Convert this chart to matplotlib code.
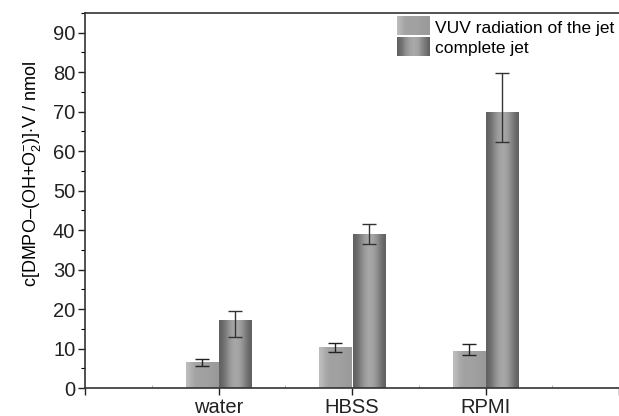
import numpy as np
import matplotlib
matplotlib.use("Agg")
import matplotlib.pyplot as plt
from matplotlib.patches import Rectangle
from matplotlib.legend_handler import HandlerBase
from matplotlib.ticker import MultipleLocator

plt.rcParams["font.family"] = ["Liberation Sans", "DejaVu Sans"]
plt.rcParams["mathtext.fontset"] = "custom"
plt.rcParams["mathtext.rm"] = "Liberation Sans"
plt.rcParams["mathtext.it"] = "Liberation Sans"

categories = ["water", "HBSS", "RPMI"]
series = ["VUV radiation of the jet", "complete jet"]

vuv = [6.4, 10.2, 9.2]
vuv_lo = [5.6, 9.0, 8.3]
vuv_hi = [7.3, 11.4, 11.2]

full = [17.2, 39.0, 69.7]
full_lo = [12.8, 36.5, 62.4]
full_hi = [19.4, 41.6, 79.9]

# gradient profiles (left -> right) for the two bar styles
grad_vuv = [0.74, 0.68, 0.64, 0.63, 0.63, 0.63, 0.62, 0.61, 0.6]
grad_full = [0.38, 0.45, 0.55, 0.63, 0.66, 0.64, 0.57, 0.47, 0.38]


def gradient_bar(ax, x, w, h, prof):
    img = np.array(prof)[None, :]
    ax.imshow(img, cmap="gray", vmin=0, vmax=1, aspect="auto",
              extent=(x - w / 2, x + w / 2, 0, h), interpolation="bicubic",
              zorder=2)


class GradHandler(HandlerBase):
    def __init__(self, prof):
        super().__init__()
        self.prof = prof

    def create_artists(self, legend, orig, x0, y0, width, height, fontsize, trans):
        arts = []
        n = len(self.prof) * 4
        vals = np.interp(np.linspace(0, len(self.prof) - 1, n),
                         np.arange(len(self.prof)), self.prof)
        for i, v in enumerate(vals):
            r = Rectangle((x0 + i * width / n, y0 - 2), width / n + 0.3, height + 4,
                          facecolor=str(v), edgecolor="none", transform=trans)
            arts.append(r)
        return arts


fig = plt.figure(figsize=(6.19, 4.16), dpi=100)
ax = fig.add_axes([85 / 619, 28 / 416, 534 / 619, 375 / 416])

x = np.arange(1, len(categories) + 1)
w = 0.24
off = 0.126

for i in range(len(categories)):
    gradient_bar(ax, x[i] - off, w, vuv[i], grad_vuv)
    gradient_bar(ax, x[i] + off, w, full[i], grad_full)

vuv_err = [np.array(vuv) - np.array(vuv_lo), np.array(vuv_hi) - np.array(vuv)]
full_err = [np.array(full) - np.array(full_lo), np.array(full_hi) - np.array(full)]
ax.errorbar(x - off, vuv, yerr=vuv_err, fmt="none", ecolor="#222222",
            elinewidth=1.0, capsize=5, capthick=1.0, zorder=3)
ax.errorbar(x + off, full, yerr=full_err, fmt="none", ecolor="#333333",
            elinewidth=1.0, capsize=5, capthick=1.0, zorder=3)

ax.set_xlim(0, 4)
ax.set_ylim(0, 95)
ax.set_xticks([0, 1, 2, 3, 4])
ax.set_xticklabels(["", "water", "HBSS", "RPMI", ""])
ax.xaxis.set_minor_locator(MultipleLocator(0.5))
ax.set_yticks(np.arange(0, 91, 10))
ax.yaxis.set_minor_locator(MultipleLocator(5))

ax.tick_params(axis="both", which="major", direction="out", length=5,
               width=1.0, labelsize=14.5, colors="#222222")
ax.tick_params(axis="y", which="minor", direction="out", length=3, width=0.8)
ax.tick_params(axis="x", which="minor", direction="in", length=2, width=0.6,
               color="#aaaaaa")
ax.tick_params(axis="x", which="major", pad=2)
ax.tick_params(axis="y", which="major", pad=2)

ax.spines["right"].set_visible(False)
for s in ["left", "bottom", "top"]:
    ax.spines[s].set_linewidth(1.2)
    ax.spines[s].set_color("#333333")

ax.set_ylabel(r"c[DMPO–(OH+O$_2^{-}$)]$\cdot$V / nmol", fontsize=13, labelpad=4)
ax.yaxis.set_label_coords(-0.078, 0.57)

h1 = Rectangle((0, 0), 1, 1)
h2 = Rectangle((0, 0), 1, 1, hatch="")
ax.legend([h1, h2], series, loc="upper right", frameon=False, fontsize=12.5,
          handler_map={h1: GradHandler(grad_vuv), h2: GradHandler(grad_full)},
          handlelength=1.85, handleheight=0.8, handletextpad=0.35,
          labelspacing=0.3, borderaxespad=0.0, bbox_to_anchor=(1.005, 1.0))

fig.savefig("out.png", dpi=100)
